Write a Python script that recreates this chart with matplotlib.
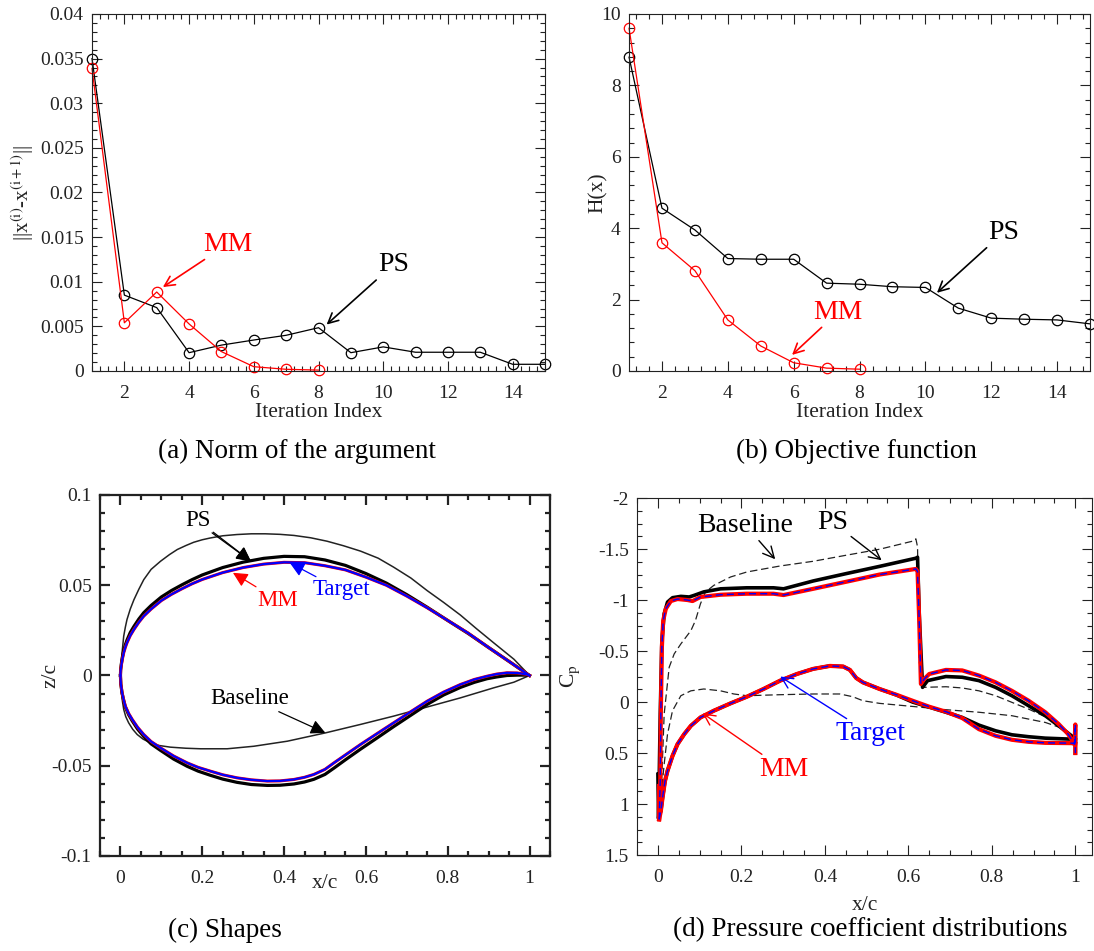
import matplotlib
matplotlib.use("Agg")
import matplotlib.pyplot as plt
from matplotlib.ticker import AutoMinorLocator, FuncFormatter

plt.rcParams['font.family'] = ['Liberation Serif', 'DejaVu Serif']
plt.rcParams['mathtext.fontset'] = 'stix'

# (a) norm of the argument
it_ps = list(range(1, 16))
norm_ps = [0.035, 0.0085, 0.0071, 0.00205, 0.0029, 0.00347, 0.0040, 0.00485,
           0.00205, 0.0027, 0.0021, 0.0021, 0.0021, 0.00075, 0.00075]
it_mm = list(range(1, 9))
norm_mm = [0.0339, 0.0054, 0.00885, 0.00527, 0.00217, 0.00048, 0.00019, 0.0001]

# (b) objective function
obj_ps = [8.79, 4.56, 3.95, 3.15, 3.13, 3.13, 2.46, 2.43, 2.36, 2.34, 1.76, 1.48,
          1.45, 1.43, 1.32]
obj_mm = [9.6, 3.59, 2.81, 1.43, 0.70, 0.23, 0.08, 0.05]

# (c) shapes
tgt_up_x = [0, 0.0005, 0.002, 0.005, 0.008, 0.012, 0.016, 0.024, 0.033, 0.045, 0.057,
            0.075, 0.1, 0.125, 0.15, 0.175, 0.2, 0.25, 0.3, 0.35, 0.4, 0.45, 0.5, 0.55,
            0.6, 0.65, 0.7, 0.75, 0.8, 0.85, 0.9, 0.95, 1.0]
tgt_up_z = [0, 0.0028, 0.0055, 0.0094, 0.0126, 0.0156, 0.0181, 0.0221, 0.0255, 0.0295,
            0.0329, 0.0368, 0.0415, 0.0450, 0.048, 0.0508, 0.0532, 0.057, 0.0598, 0.0617,
            0.0627, 0.0625, 0.0608, 0.0585, 0.0545, 0.050, 0.044, 0.0375, 0.0305, 0.0235,
            0.0155, 0.0078, 0.0]
tgt_lo_x = [0, 0.001, 0.004, 0.008, 0.012, 0.02, 0.029, 0.042, 0.057, 0.075, 0.098,
            0.13, 0.163, 0.190, 0.220, 0.25, 0.285, 0.32, 0.359, 0.39, 0.424, 0.45,
            0.473, 0.50, 0.522, 0.55, 0.587, 0.63, 0.668, 0.71, 0.750, 0.79, 0.831,
            0.865, 0.896, 0.92, 0.945, 0.97, 0.994, 1.0]
tgt_lo_z = [0, -0.0048, -0.0096, -0.0136, -0.0170, -0.0210, -0.0244, -0.0287, -0.0327,
            -0.0366, -0.0401, -0.0446, -0.0484, -0.0509, -0.0530, -0.0550, -0.0567,
            -0.0578, -0.0585, -0.0584, -0.0576, -0.0564, -0.0548, -0.0520, -0.0484,
            -0.0440, -0.0382, -0.0318, -0.0262, -0.0200, -0.0142, -0.0092, -0.0050,
            -0.0022, -0.0004, 0.0008, 0.0015, 0.0014, 0.0006, 0]
ps_up_x = [0, 0.0005, 0.002, 0.005, 0.008, 0.012, 0.016, 0.024, 0.033, 0.045, 0.057,
           0.075, 0.1, 0.125, 0.15, 0.175, 0.2, 0.25, 0.3, 0.35, 0.4, 0.45, 0.5, 0.55,
           0.6, 0.65, 0.7, 0.75, 0.8, 0.85, 0.9, 0.95, 1.0]
ps_up_z = [0, 0.0031, 0.0062, 0.0104, 0.0138, 0.0170, 0.0196, 0.0238, 0.0272, 0.0313,
           0.0348, 0.0388, 0.0435, 0.0471, 0.0502, 0.0531, 0.0557, 0.0598, 0.0628, 0.0649,
           0.0660, 0.0658, 0.0640, 0.0610, 0.0565, 0.0512, 0.0448, 0.0378, 0.0305, 0.0233,
           0.0155, 0.0078, 0.0]
ps_lo_x = [0, 0.001, 0.004, 0.008, 0.012, 0.02, 0.029, 0.042, 0.057, 0.075, 0.098,
           0.13, 0.163, 0.190, 0.220, 0.25, 0.285, 0.32, 0.359, 0.39, 0.424, 0.45,
           0.473, 0.50, 0.522, 0.55, 0.587, 0.63, 0.668, 0.71, 0.750, 0.79, 0.831,
           0.865, 0.896, 0.92, 0.945, 0.97, 0.994, 1.0]
ps_lo_z = [0, -0.0049, -0.0098, -0.0139, -0.0175, -0.0217, -0.0252, -0.0297, -0.0338,
           -0.0379, -0.0415, -0.0463, -0.0503, -0.0530, -0.0553, -0.0574, -0.0592,
           -0.0604, -0.0609, -0.0608, -0.0601, -0.0590, -0.0575, -0.0548, -0.0513,
           -0.0467, -0.0408, -0.0342, -0.0283, -0.0220, -0.0160, -0.0108, -0.0066,
           -0.0038, -0.0018, -0.0008, 0.0, 0.0002, 0.0002, 0]
base_up_x = [0, 0.0005, 0.0024, 0.005, 0.008, 0.012, 0.016, 0.024, 0.033, 0.045, 0.057,
             0.075, 0.098, 0.12, 0.139, 0.16, 0.179, 0.20, 0.220, 0.25, 0.285, 0.32,
             0.354, 0.39, 0.424, 0.465, 0.505, 0.545, 0.587, 0.63, 0.668, 0.71, 0.750,
             0.79, 0.831, 0.87, 0.913, 0.962, 1.0]
base_up_z = [0, 0.0045, 0.0089, 0.0150, 0.0218, 0.0268, 0.031, 0.0368, 0.042, 0.0478,
             0.0531, 0.0588, 0.0633, 0.0670, 0.0698, 0.0720, 0.0738, 0.0752, 0.0762,
             0.0774, 0.0781, 0.0785, 0.0785, 0.0782, 0.0776, 0.0763, 0.0744, 0.0719,
             0.0689, 0.0650, 0.0600, 0.0540, 0.0470, 0.0405, 0.0335, 0.0260, 0.0180,
             0.0090, 0.0]
base_lo_x = [0, 0.0005, 0.0024, 0.005, 0.008, 0.013, 0.020, 0.030, 0.041, 0.055, 0.073,
             0.095, 0.122, 0.160, 0.196, 0.261, 0.326, 0.408, 0.501, 0.587, 0.668,
             0.733, 0.831, 0.913, 0.962, 1.0]
base_lo_z = [0, -0.0048, -0.0096, -0.0145, -0.0188, -0.0228, -0.0262, -0.0298, -0.0327,
             -0.0352, -0.0373, -0.0388, -0.0397, -0.0403, -0.0406, -0.0406, -0.0392,
             -0.0364, -0.0318, -0.0271, -0.0225, -0.0185, -0.0124, -0.0068, -0.0037, 0]

# (d) pressure coefficient
mm_cp_x = [0.003, 0.0056, 0.007, 0.0095, 0.0127, 0.019, 0.031, 0.047, 0.071, 0.083,
           0.102, 0.15, 0.213, 0.277, 0.301, 0.372, 0.452, 0.531, 0.618, 0.622, 0.626,
           0.630, 0.638, 0.65, 0.69, 0.729, 0.769, 0.809, 0.848, 0.888, 0.928, 0.96,
           0.983, 0.998, 1.0, 1.0]
mm_cp_u = [1.15, 0.774, 0.118, -0.538, -0.80, -0.915, -0.99, -1.01, -1.0, -0.99, -1.03,
           -1.052, -1.062, -1.062, -1.049, -1.11, -1.18, -1.25, -1.305, -1.28, -0.80,
           -0.177, -0.226, -0.275, -0.315, -0.31, -0.26, -0.193, -0.11, -0.013, 0.10,
           0.216, 0.315, 0.413, 0.22, 0.50]
mm_cl_x = [0.003, 0.007, 0.011, 0.017, 0.023, 0.035, 0.047, 0.063, 0.079, 0.102, 0.134,
           0.174, 0.213, 0.253, 0.293, 0.333, 0.372, 0.412, 0.444, 0.46, 0.475, 0.491,
           0.531, 0.571, 0.61, 0.65, 0.69, 0.729, 0.745, 0.769, 0.809, 0.848, 0.888,
           0.928, 0.991, 1.0]
mm_cp_l = [1.15, 1.07, 0.94, 0.774, 0.675, 0.528, 0.413, 0.315, 0.233, 0.151, 0.085,
           0.013, -0.052, -0.128, -0.21, -0.275, -0.325, -0.354, -0.348, -0.315, -0.236,
           -0.193, -0.128, -0.072, -0.013, 0.046, 0.095, 0.157, 0.2, 0.266, 0.331,
           0.370, 0.39, 0.40, 0.403, 0.41]
mm_le_cp = [0.82, 1.15]

ps_cp_x = [0.0, 0.0016, 0.0056, 0.0095, 0.015, 0.023, 0.035, 0.055, 0.075, 0.087, 0.11,
           0.15, 0.213, 0.277, 0.301, 0.372, 0.452, 0.531, 0.618, 0.622, 0.626, 0.634,
           0.646, 0.69, 0.729, 0.769, 0.809, 0.848, 0.888, 0.928, 0.96, 0.991, 1.0,
           1.0, 1.0]
ps_cp_u = [0.708, 1.13, 0.118, -0.60, -0.866, -0.98, -1.023, -1.036, -1.03, -1.046,
           -1.08, -1.11, -1.12, -1.12, -1.11, -1.187, -1.26, -1.33, -1.41, -1.42,
           -0.866, -0.144, -0.21, -0.25, -0.243, -0.21, -0.144, -0.062, 0.036, 0.134,
           0.233, 0.331, 0.40, 0.27, 0.50]
ps_cl_x = [0.0016, 0.007, 0.011, 0.017, 0.023, 0.035, 0.047, 0.063, 0.079, 0.102, 0.134,
           0.174, 0.213, 0.253, 0.293, 0.333, 0.372, 0.412, 0.444, 0.46, 0.475, 0.491,
           0.531, 0.571, 0.61, 0.65, 0.69, 0.729, 0.769, 0.809, 0.848, 0.888, 0.928,
           0.991, 1.0]
ps_cp_l = [1.13, 1.07, 0.94, 0.774, 0.675, 0.528, 0.413, 0.315, 0.233, 0.151, 0.085,
           0.013, -0.052, -0.128, -0.21, -0.275, -0.325, -0.354, -0.348, -0.315, -0.236,
           -0.193, -0.128, -0.070, -0.0, 0.050, 0.10, 0.151, 0.226, 0.282, 0.321,
           0.340, 0.354, 0.364, 0.37]

base_cp_x = [0.007, 0.015, 0.027, 0.039, 0.055, 0.079, 0.09, 0.102, 0.114, 0.134, 0.174,
             0.213, 0.293, 0.372, 0.452, 0.531, 0.61, 0.618, 0.622, 0.626, 0.634, 0.69,
             0.729, 0.769, 0.809, 0.848, 0.888, 0.928, 0.96, 0.983, 1.0]
base_cp_u = [0.99, 0.118, -0.341, -0.472, -0.570, -0.70, -0.80, -0.964, -1.079, -1.144,
             -1.226, -1.275, -1.334, -1.38, -1.44, -1.498, -1.577, -1.60, -1.52, -0.40,
             -0.144, -0.15, -0.138, -0.11, -0.062, 0.003, 0.069, 0.144, 0.216, 0.298,
             0.446]
base_cl_x = [0.007, 0.015, 0.023, 0.035, 0.055, 0.079, 0.11, 0.15, 0.182, 0.213, 0.293,
             0.372, 0.436, 0.467, 0.491, 0.531, 0.61, 0.69, 0.769, 0.848, 0.928, 0.975,
             1.0]
base_cp_l = [0.938, 0.61, 0.315, 0.085, -0.062, -0.11, -0.128, -0.11, -0.079, -0.062,
             -0.072, -0.079, -0.079, -0.052, -0.013, 0.013, 0.043, 0.075, 0.10, 0.134,
             0.2, 0.266, 0.446]

fig = plt.figure(figsize=(10.94, 9.51), dpi=100)

ax_a = fig.add_axes([0.0841, 0.6099, 0.4141, 0.3754])
ax_b = fig.add_axes([0.5750, 0.6099, 0.4214, 0.3754])
ax_c = fig.add_axes([0.0914, 0.0999, 0.4113, 0.3796])
ax_d = fig.add_axes([0.5823, 0.1009, 0.4159, 0.3754])


def style(ax, nx, ny, lw=0.8):
    ax.xaxis.set_minor_locator(AutoMinorLocator(nx))
    ax.yaxis.set_minor_locator(AutoMinorLocator(ny))
    ax.tick_params(which='both', direction='in', top=True, right=True,
                   labelsize=14, width=lw, colors='#222222')
    ax.tick_params(which='major', length=7)
    ax.tick_params(axis='x', which='major', pad=10)
    ax.tick_params(axis='y', which='major', pad=6)
    ax.tick_params(which='minor', length=3.5)
    for s in ax.spines.values():
        s.set_linewidth(lw)
        s.set_color('#222222')
    ax.yaxis.set_major_formatter(FuncFormatter(lambda v, p: '%g' % v))
    ax.xaxis.set_major_formatter(FuncFormatter(lambda v, p: '%g' % v))


# (a)
ax_a.plot(it_ps, norm_ps, 'k-', marker='o', mfc='none', ms=7.5, mew=0.9, lw=0.9, clip_on=False)
ax_a.plot(it_mm, norm_mm, '-', color='red', marker='o', mfc='none', ms=7.5, mew=0.9,
          lw=0.9, clip_on=False)
ax_a.set_xlim(1, 15)
ax_a.set_ylim(0, 0.04)
ax_a.set_xticks([2, 4, 6, 8, 10, 12, 14])
ax_a.set_yticks([0, 0.005, 0.01, 0.015, 0.02, 0.025, 0.03, 0.035, 0.04])
style(ax_a, 8, 5)
ax_a.set_xlabel('Iteration Index', fontsize=15.5, labelpad=1, color='#222222')
ax_a.set_ylabel(r'||x$^{\mathrm{(i)}}$-x$^{\mathrm{(i+1)}}$||', fontsize=15, color='#222222')
ax_a.yaxis.set_label_coords(-0.124, 0.5)
ax_a.annotate('MM', xy=(3.19, 0.0094), xytext=(4.43, 0.0128), color='red', fontsize=20,
              ha='left', va='bottom',
              arrowprops=dict(arrowstyle='->', color='red', lw=1.2, mutation_scale=18,
                              shrinkA=0, shrinkB=0))
ax_a.annotate('PS', xy=(8.25, 0.0052), xytext=(9.83, 0.0105), color='black', fontsize=20,
              ha='left', va='bottom',
              arrowprops=dict(arrowstyle='->', color='black', lw=1.2, mutation_scale=18,
                              shrinkA=0, shrinkB=0))

# (b)
ax_b.plot(it_ps, obj_ps, 'k-', marker='o', mfc='none', ms=7.5, mew=0.9, lw=0.9, clip_on=False)
ax_b.plot(it_mm, obj_mm, '-', color='red', marker='o', mfc='none', ms=7.5, mew=0.9,
          lw=0.9, clip_on=False)
ax_b.set_xlim(1, 15)
ax_b.set_ylim(0, 10)
ax_b.set_xticks([2, 4, 6, 8, 10, 12, 14])
ax_b.set_yticks([0, 2, 4, 6, 8, 10])
style(ax_b, 5, 5)
ax_b.set_xlabel('Iteration Index', fontsize=15.5, labelpad=1, color='#222222')
ax_b.set_ylabel('H(x)', fontsize=15.5, color='#222222')
ax_b.yaxis.set_label_coords(-0.046, 0.5)
ax_b.annotate('PS', xy=(10.35, 2.19), xytext=(11.9, 3.53), color='black', fontsize=20,
              ha='left', va='bottom',
              arrowprops=dict(arrowstyle='->', color='black', lw=1.2, mutation_scale=18,
                              shrinkA=0, shrinkB=0))
ax_b.annotate('MM', xy=(5.95, 0.45), xytext=(6.6, 1.3), color='red', fontsize=20,
              ha='left', va='bottom',
              arrowprops=dict(arrowstyle='->', color='red', lw=1.2, mutation_scale=18,
                              shrinkA=0, shrinkB=0))

# (c)
ax_c.plot(base_up_x, base_up_z, '-', color='#222222', lw=1.1)
ax_c.plot(base_lo_x, base_lo_z, '-', color='#222222', lw=1.1)
ax_c.plot(ps_up_x, ps_up_z, 'k-', lw=2.3)
ax_c.plot(ps_lo_x, ps_lo_z, 'k-', lw=2.3)
ax_c.plot(tgt_up_x, tgt_up_z, '-', color='red', lw=2.2)
ax_c.plot(tgt_lo_x, tgt_lo_z, '-', color='red', lw=2.2)
ax_c.plot(tgt_up_x, tgt_up_z, '-', color='blue', lw=1.6)
ax_c.plot(tgt_lo_x, tgt_lo_z, '-', color='blue', lw=1.6)
ax_c.set_xlim(-0.05, 1.05)
ax_c.set_ylim(-0.1, 0.1)
ax_c.set_xticks([0, 0.2, 0.4, 0.6, 0.8, 1])
ax_c.set_yticks([-0.1, -0.05, 0, 0.05, 0.1])
style(ax_c, 4, 5, lw=1.6)
ax_c.set_xlabel('x/c', fontsize=15.5, color='#222222')
ax_c.xaxis.set_label_coords(0.5, -0.05)
ax_c.set_ylabel('z/c', fontsize=15.5, color='#222222')
ax_c.yaxis.set_label_coords(-0.089, 0.5)
arr_c = dict(arrowstyle='-|>', lw=0.9, mutation_scale=22, shrinkA=0, shrinkB=0)
ax_c.annotate('PS', xy=(0.319, 0.0633), xytext=(0.189, 0.086), fontsize=16.5, ha='center',
              va='center', arrowprops=dict(color='black', **arr_c))
ax_c.annotate('', xy=(0.319, 0.0633), xytext=(0.224, 0.079),
              arrowprops=dict(color='black', **arr_c))
ax_c.annotate('MM', xy=(0.275, 0.0569), xytext=(0.335, 0.0476), fontsize=16.5, color='red',
              ha='left', va='top', arrowprops=dict(color='red', **arr_c))
ax_c.annotate('Target', xy=(0.414, 0.0624), xytext=(0.469, 0.0532), fontsize=16.5,
              color='blue', ha='left', va='top', arrowprops=dict(color='blue', **arr_c))
ax_c.annotate('Baseline', xy=(0.501, -0.0318), xytext=(0.412, -0.0185), fontsize=16.5,
              ha='right', va='bottom', arrowprops=dict(color='black', **arr_c))

# (d)
ax_d.plot(base_cp_x, base_cp_u, '--', color='#222222', lw=0.9, dashes=(6, 3))
ax_d.plot(base_cl_x, base_cp_l, '--', color='#222222', lw=0.9, dashes=(6, 3))
ax_d.plot(ps_cp_x, ps_cp_u, 'k-', lw=2.6)
ax_d.plot(ps_cl_x, ps_cp_l, 'k-', lw=2.6)
ax_d.plot(mm_cp_x, mm_cp_u, '-', color='red', lw=3.0)
ax_d.plot(mm_cl_x, mm_cp_l, '-', color='red', lw=3.0)
ax_d.plot([0.0016, 0.0016], mm_le_cp, '-', color='red', lw=3.0)
ax_d.plot(mm_cp_x, mm_cp_u, '--', color='blue', lw=1.0, dashes=(5, 3))
ax_d.plot(mm_cl_x, mm_cp_l, '--', color='blue', lw=1.0, dashes=(5, 3))
ax_d.set_xlim(-0.05, 1.04)
ax_d.set_ylim(1.5, -2)
ax_d.set_xticks([0, 0.2, 0.4, 0.6, 0.8, 1])
ax_d.set_yticks([-2, -1.5, -1, -0.5, 0, 0.5, 1, 1.5])
style(ax_d, 4, 4)
ax_d.set_xlabel('x/c', fontsize=15.5, labelpad=7, color='#222222')
ax_d.set_ylabel(r'C$_{\mathrm{p}}$', fontsize=15.5, color='#222222')
ax_d.yaxis.set_label_coords(-0.122, 0.5)
arr_d = dict(arrowstyle='->', lw=1.0, mutation_scale=20, shrinkA=0, shrinkB=0)
ax_d.annotate('Baseline', xy=(0.281, -1.40), xytext=(0.21, -1.61), fontsize=20,
              ha='center', va='bottom', arrowprops=dict(color='black', **arr_d))
ax_d.annotate('PS', xy=(0.536, -1.39), xytext=(0.419, -1.64), fontsize=20,
              ha='center', va='bottom', arrowprops=dict(color='black', **arr_d))
ax_d.annotate('Target', xy=(0.293, -0.25), xytext=(0.426, 0.19), fontsize=20,
              color='blue', ha='left', va='top', arrowprops=dict(color='blue', **arr_d))
ax_d.annotate('MM', xy=(0.107, 0.11), xytext=(0.243, 0.54), fontsize=20,
              color='red', ha='left', va='top', arrowprops=dict(color='red', **arr_d))

# captions
fig.text(297 / 1094, 1 - 451 / 951, '(a) Norm of the argument', fontsize=19.5,
         ha='center', va='center')
fig.text(856 / 1094, 1 - 451 / 951, '(b) Objective function', fontsize=19.5,
         ha='center', va='center')
fig.text(225 / 1094, 1 - 930 / 951, '(c) Shapes', fontsize=19.5, ha='center', va='center')
fig.text(870 / 1094, 1 - 930 / 951, '(d) Pressure coefficient distributions',
         fontsize=19.5, ha='center', va='center')

fig.savefig('out.png', dpi=100)
